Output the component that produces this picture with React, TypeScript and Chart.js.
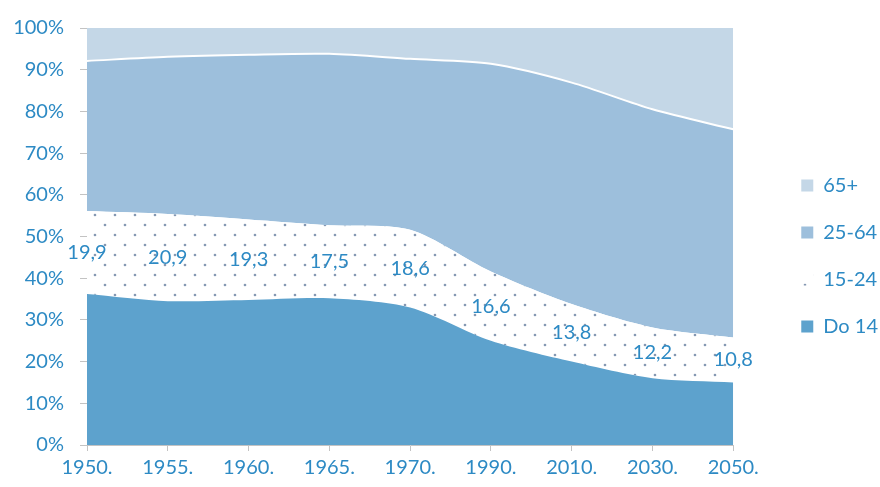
import { useEffect, useRef } from 'react';
import { Chart, registerables } from 'chart.js';

Chart.register(...registerables);

const categories = ['1950.', '1955.', '1960.', '1965.', '1970.', '1990.', '2010.', '2030.', '2050.'];
const do14 = [36.2, 34.5, 34.8, 35.2, 33.0, 25.0, 20.0, 16.0, 15.0];
const age15to24 = [19.9, 20.9, 19.3, 17.5, 18.6, 16.6, 13.8, 12.2, 10.8];
const age25to64 = [36.0, 37.7, 39.5, 41.1, 41.0, 49.8, 53.1, 52.3, 49.9];
const age65plus = [7.9, 6.9, 6.4, 6.2, 7.4, 8.6, 13.1, 19.5, 24.3];
const seriesNames = ['Do 14', '15-24', '25-64', '65+'];

const TEXT = '#2D8AC4';
const AXIS = '#C3C3C3';
const FONT = 'Lato';

function makeDots(): CanvasPattern | string {
  const c = document.createElement('canvas');
  c.width = 20;
  c.height = 20;
  const g = c.getContext('2d');
  if (!g) return '#ffffff';
  g.fillStyle = '#ffffff';
  g.fillRect(0, 0, 20, 20);
  g.fillStyle = '#8598B2';
  g.beginPath();
  g.arc(5, 5, 1.35, 0, Math.PI * 2);
  g.arc(15, 15, 1.35, 0, Math.PI * 2);
  g.fill();
  return g.createPattern(c, 'repeat') || '#ffffff';
}

const bandLabels = {
  id: 'bandLabels',
  afterDatasetsDraw(chart: any) {
    const meta = chart.getDatasetMeta(1);
    const y = chart.scales.y;
    const ctx = chart.ctx;
    ctx.save();
    ctx.font = `20px ${FONT}`;
    ctx.fillStyle = TEXT;
    ctx.textAlign = 'center';
    ctx.textBaseline = 'middle';
    meta.data.forEach((pt: any, i: number) => {
      const v = age15to24[i];
      const yp = y.getPixelForValue(do14[i] + v / 2);
      ctx.fillText(v.toFixed(1).replace('.', ','), pt.x, yp);
    });
    ctx.restore();
  },
};

export default function App() {
  const ref = useRef<HTMLCanvasElement | null>(null);

  useEffect(() => {
    if (!ref.current) return;
    const dots = makeDots();
    const common = { pointRadius: 0, pointHoverRadius: 0, tension: 0.28, borderWidth: 0 };
    const chart = new Chart(ref.current, {
      type: 'line',
      data: {
        labels: categories,
        datasets: [
          { ...common, label: seriesNames[0], data: do14, backgroundColor: '#5DA2CD', borderColor: '#5DA2CD', fill: 'origin' },
          { ...common, label: seriesNames[1], data: age15to24, backgroundColor: dots as any, borderColor: '#ffffff', fill: '-1' },
          { ...common, label: seriesNames[2], data: age25to64, backgroundColor: '#9DBFDC', borderColor: '#ffffff', borderWidth: 2, fill: '-1' },
          { ...common, label: seriesNames[3], data: age65plus, backgroundColor: '#C4D7E7', borderColor: '#C4D7E7', fill: '-1' },
        ],
      },
      options: {
        animation: false,
        responsive: true,
        maintainAspectRatio: false,
        layout: { padding: { top: 25, right: -8, bottom: 0, left: 0 } },
        plugins: {
          tooltip: { enabled: false },
          legend: {
            position: 'right',
            reverse: true,
            labels: {
              boxWidth: 12,
              boxHeight: 12,
              padding: 27,
              color: TEXT,
              font: { family: FONT, size: 20 },
              generateLabels: (c: any) =>
                Chart.defaults.plugins.legend.labels
                  .generateLabels(c)
                  .map((l: any) => ({ ...l, lineWidth: 0, strokeStyle: 'rgba(0,0,0,0)' })),
            },
          },
        },
        scales: {
          x: {
            offset: false,
            grid: { drawOnChartArea: false, drawTicks: true, tickLength: 6, color: AXIS },
            border: { color: AXIS },
            ticks: { color: TEXT, font: { family: FONT, size: 20 }, padding: 5, maxRotation: 0, autoSkip: false },
            afterFit: (s: any) => { s.height = 42; },
          },
          y: {
            stacked: true,
            min: 0,
            max: 100,
            grid: { drawOnChartArea: false, drawTicks: true, tickLength: 7, color: AXIS },
            border: { color: AXIS },
            ticks: {
              stepSize: 10,
              color: TEXT,
              font: { family: FONT, size: 20 },
              padding: 16,
              callback: (v: any) => `${v}%`,
            },
            afterFit: (s: any) => { s.width = 87; },
          },
          gap: {
            type: 'linear',
            position: 'right',
            display: true,
            grid: { display: false },
            border: { display: false },
            ticks: { display: false },
            afterFit: (s: any) => { s.width = 41; },
          },
        },
      },
      plugins: [bandLabels],
    });
    return () => chart.destroy();
  }, []);

  return (
    <div style={{ position: 'absolute', left: 0, top: 0, width: 880, height: 487, background: '#ffffff' }}>
      <canvas ref={ref} />
    </div>
  );
}
